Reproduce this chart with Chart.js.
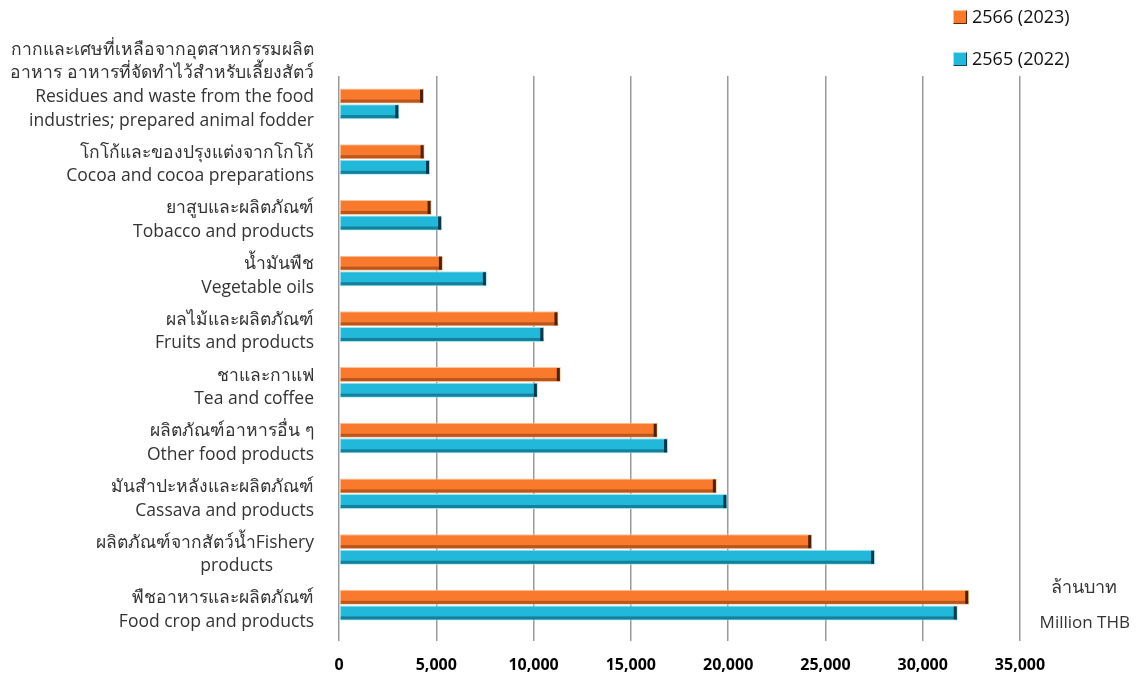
<!DOCTYPE html>
<html>
<head>
<meta charset="utf-8">
<script src="https://cdn.jsdelivr.net/npm/chart.js@4"></script>
<style>
  body { margin: 0; background: #fff; font-family: "Open Sans", "Noto Sans", sans-serif; }
  #wrap { position: relative; width: 1142px; height: 679px; }
  .leg { position: absolute; left: 953px; font-size: 18px; color: #111; white-space: nowrap; }
  .sw { display: inline-block; width: 12px; height: 12px; margin-right: 5px; vertical-align: -1px; border: 1px solid; }
  .unit { position: absolute; color: #333; white-space: nowrap; text-align: right; }
</style>
</head>
<body>
<div id="wrap">
  <canvas id="myChart"></canvas>
  <div class="leg" style="top:4px"><span class="sw" style="background:#f97a2d;border-color:#f8c4a0 #5a2a0c #5a2a0c #f8c4a0"></span>2566 (2023)</div>
  <div class="leg" style="top:46px"><span class="sw" style="background:#22b8da;border-color:#a6e2f0 #0b4a5a #0b4a5a #a6e2f0"></span>2565 (2022)</div>
  <div class="unit" style="right:25px;top:572px;font-size:18px">ล้านบาท</div>
  <div class="unit" style="right:12px;top:610px;font-size:17px">Million THB</div>
</div>
<script>
var categories = [
  ["กากและเศษที่เหลือจากอุตสาหกรรมผลิต", "อาหาร อาหารที่จัดทำไว้สำหรับเลี้ยงสัตว์", "Residues and waste from the food", "industries; prepared animal fodder", "", ""],
  ["โกโก้และของปรุงแต่งจากโกโก้", "Cocoa and cocoa preparations"],
  ["ยาสูบและผลิตภัณฑ์", "Tobacco and products"],
  ["น้ำมันพืช", "Vegetable oils"],
  ["ผลไม้และผลิตภัณฑ์", "Fruits and products"],
  ["ชาและกาแฟ", "Tea and coffee"],
  ["ผลิตภัณฑ์อาหารอื่น ๆ", "Other food products"],
  ["มันสำปะหลังและผลิตภัณฑ์", "Cassava and products"],
  ["ผลิตภัณฑ์จากสัตว์น้ำFishery", "products\u00a0\u00a0\u00a0\u00a0\u00a0\u00a0\u00a0\u00a0\u00a0"],
  ["พืชอาหารและผลิตภัณฑ์", "Food crop and products"]
];
var values2566 = [4370, 4400, 4760, 5340, 11280, 11400, 16380, 19420, 24320, 32390];
var values2565 = [3100, 4680, 5300, 7600, 10550, 10220, 16910, 19960, 27550, 31800];
var seriesNames = ["2566 (2023)", "2565 (2022)"];
var xTicks = [0, 5000, 10000, 15000, 20000, 25000, 30000, 35000];

var shade = [
  { fill: "#f97a2d", halo: "#f8c4a0", low: "#b9561c", cap: "#4a2308" },
  { fill: "#22b8da", halo: "#a6e2f0", low: "#15809a", cap: "#08394a" }
];

// darker lower band and end cap, to get the bevelled look
var bevel = {
  id: "bevel",
  afterDatasetsDraw: function (chart) {
    var c = chart.ctx;
    chart.data.datasets.forEach(function (ds, i) {
      chart.getDatasetMeta(i).data.forEach(function (bar) {
        var p = bar.getProps(["x", "y", "base", "height"], true);
        var top = p.y - p.height / 2, bottom = p.y + p.height / 2;
        c.save();
        c.fillStyle = shade[i].low;
        c.fillRect(p.base + 1, bottom - 4, p.x - p.base - 2, 3);
        c.fillStyle = shade[i].cap;
        c.fillRect(p.x - 4, top + 1, 3, p.height - 2);
        c.restore();
      });
    });
  }
};

var ctx = document.getElementById("myChart").getContext("2d");
var chart = new Chart(ctx, {
  type: "bar",
  plugins: [bevel],
  data: {
    labels: categories,
    datasets: [
      {
        label: seriesNames[0],
        data: values2566,
        backgroundColor: shade[0].fill,
        borderColor: shade[0].halo,
        borderWidth: 1,
        borderSkipped: false,
        categoryPercentage: 0.56,
        barPercentage: 0.96
      },
      {
        label: seriesNames[1],
        data: values2565,
        backgroundColor: shade[1].fill,
        borderColor: shade[1].halo,
        borderWidth: 1,
        borderSkipped: false,
        categoryPercentage: 0.56,
        barPercentage: 0.96
      }
    ]
  },
  options: {
    indexAxis: "y",
    responsive: true,
    maintainAspectRatio: false,
    animation: false,
    layout: { padding: { left: 0, right: 122, top: 76, bottom: 0 } },
    plugins: {
      legend: { display: false },
      tooltip: { enabled: false }
    },
    scales: {
      x: {
        min: 0,
        max: 35000,
        afterFit: function (scale) {
          scale.height = 46;
          scale.paddingLeft = 0;
          scale.paddingRight = 0;
        },
        afterBuildTicks: function (scale) {
          scale.ticks = xTicks.map(function (v) { return { value: v }; });
        },
        border: { display: false },
        grid: { color: "#9a9a9a", lineWidth: 1.5, tickLength: 8 },
        ticks: {
          padding: 15,
          color: "#000",
          font: { family: "'Open Sans', sans-serif", size: 16, weight: "bold" },
          callback: function (v) { return v.toLocaleString("en-US"); }
        }
      },
      y: {
        afterFit: function (scale) {
          scale.width = 339;
          scale.paddingTop = 0;
          scale.paddingBottom = 0;
        },
        border: { display: false },
        grid: { display: false, drawTicks: false },
        ticks: {
          autoSkip: false,
          padding: 25,
          labelOffset: 5,
          color: "#333",
          font: { family: "'Open Sans', 'Noto Sans', sans-serif", size: 17.5, lineHeight: 1.35 }
        }
      }
    }
  }
});
</script>
</body>
</html>
